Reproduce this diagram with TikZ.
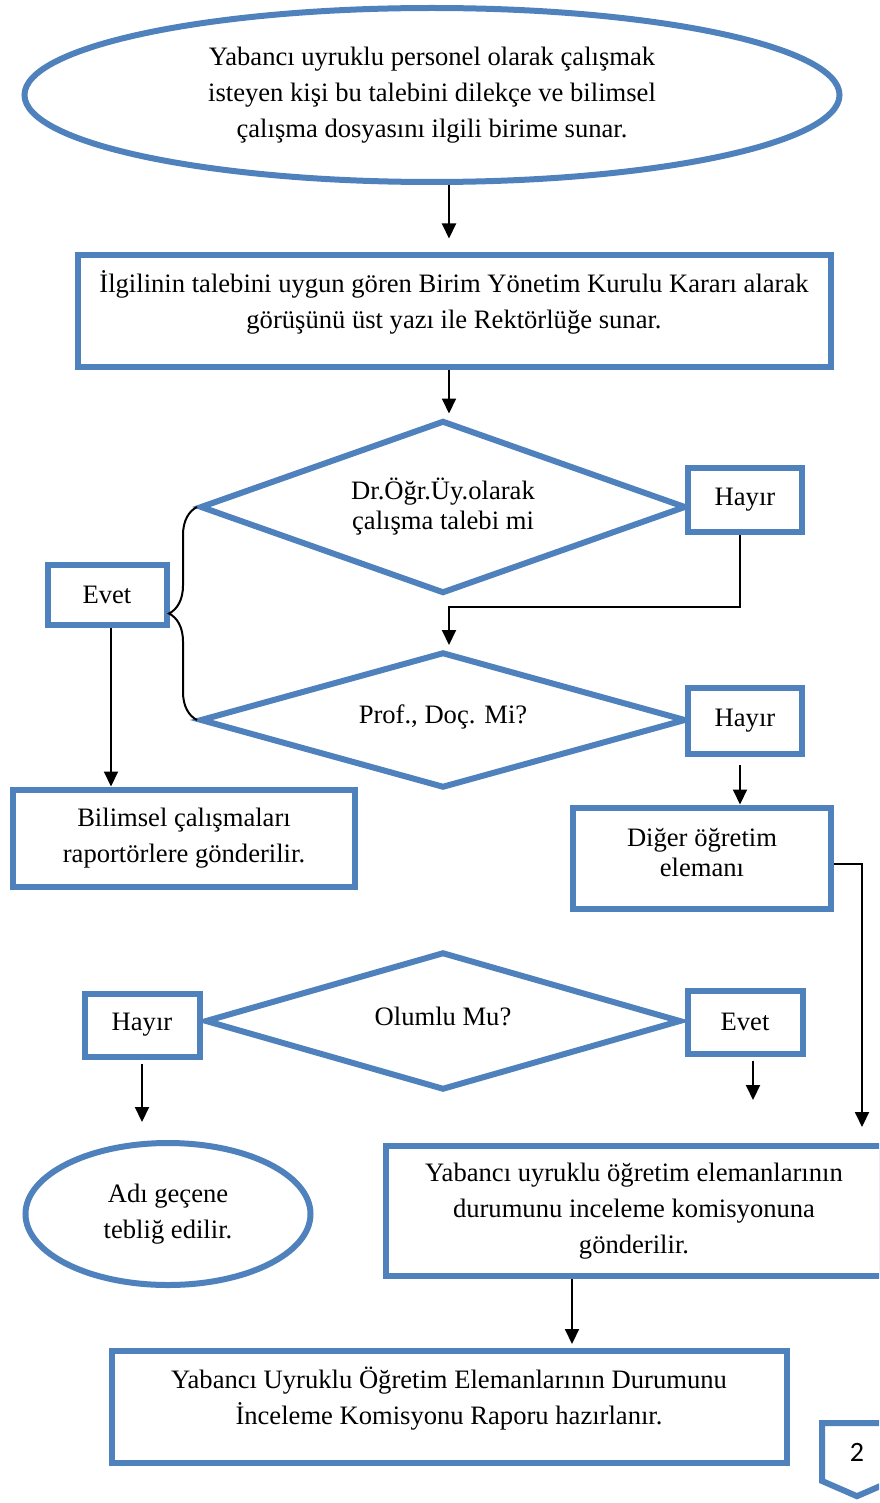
\documentclass[tikz,border=0pt]{standalone}
\usepackage{fontspec}
\setmainfont{Liberation Serif}
\newfontfamily\pagefont{Carlito}
\usetikzlibrary{arrows.meta,shapes.geometric,shapes.symbols,decorations.pathreplacing}
\definecolor{boxblue}{RGB}{79,129,189}
\tikzset{
	line width=1pt,% connectors are thin and black, shapes have the thick blue frame
	box/.style ={rectangle, draw=boxblue, line width=3pt, fill=white, inner sep=0pt, align=center},
	oval/.style = {ellipse, draw=boxblue, line width=3pt, fill=white, inner sep=0pt, align=center},
	choice/.style = {diamond, draw=boxblue, line width=3pt, fill=white, aspect=3, inner sep=0pt, align=center},
	arrow/.style = {-{Triangle[width=7pt,length=7.5pt]}, line width=1pt},
	bracket/.style = {decorate, decoration={brace, amplitude=14pt}, line width=1pt}
}

\begin{document}
\begin{tikzpicture}[x=0.5pt, y=-0.5pt, font=\fontsize{13.3}{18}\selectfont]
            \useasboundingbox (0,0) rectangle (879,1503);
            \clip (0,0) rectangle (879,1503);
            \coordinate (mid) at (449,0);
            \coordinate (side) at (740,607);
            \coordinate (join) at (449,607);
            \coordinate (far) at (862,864);
            \coordinate (evx) at (111,0);
            \coordinate (yes) at (753,1100);
            \coordinate (low) at (572,0);
            \node[oval, minimum width=407.5pt, minimum height=87pt] (1) at (432,95) {Yabancı uyruklu personel olarak çalışmak\\ isteyen kişi bu talebini dilekçe ve bilimsel\\ çalışma dosyasını ilgili birime sunar.};
            \node[box, minimum width=376.5pt, minimum height=56pt, text depth=11.5pt] (2) at (454,311) {İlgilinin talebini uygun gören Birim Yönetim Kurulu Kararı alarak\\ görüşünü üst yazı ile Rektörlüğe sunar.};
            \node[choice, minimum width=243pt, minimum height=86.5pt] (3) at (443,507) {Dr.Öğr.Üy.olarak\\[-3pt] çalışma talebi mi};
            \node[box, minimum width=57pt, minimum height=32pt] (4) at (745,500) {Hayır};
            \node[choice, minimum width=243pt, minimum height=68pt, text depth=6pt] (5) at (443,720) {Prof., Doç. Mi?};
            \node[box, minimum width=57pt, minimum height=33pt] (6) at (745,721) {Hayır};
            \node[box, minimum width=129pt, minimum height=50.5pt, text depth=6pt] (7) at (702,858) {Diğer öğretim\\[-3pt] elemanı};
            \node[box, minimum width=59.5pt, minimum height=30pt] (8) at (107,595) {Evet};
            \node[box, minimum width=171pt, minimum height=48.5pt] (9) at (184,838) {Bilimsel çalışmaları\\ raportörlere gönderilir.};
            \node[choice, minimum width=238pt, minimum height=69pt, text depth=5pt] (10) at (443,1021) {Olumlu Mu?};
            \node[box, minimum width=57.5pt, minimum height=31.5pt] (11) at (142,1025) {Hayır};
            \node[box, minimum width=57.5pt, minimum height=31.5pt] (12) at (745,1022) {Evet};
            \node[oval, minimum width=142.5pt, minimum height=71pt] (13) at (168,1214) {Adı geçene\\ tebliğ edilir.};
            \node[box, minimum width=248pt, minimum height=65pt] (14) at (634,1211) {Yabancı uyruklu öğretim elemanlarının\\ durumunu inceleme komisyonuna\\ gönderilir.};
            \node[box, minimum width=337.5pt, minimum height=56pt, text depth=11.5pt] (15) at (449,1407) {Yabancı Uyruklu Öğretim Elemanlarının Durumunu\\ İnceleme Komisyonu Raporu hazırlanır.};
            \node[signal, signal to=south, signal pointer angle=133, draw=boxblue, line width=3pt, fill=white, inner sep=0pt, minimum width=35pt, minimum height=30.5pt, font=\pagefont\fontsize{14}{16}\selectfont] (16) at (857,1452) {2};
            \draw[arrow, shorten >=6.75pt] (1.south -| mid) -- (2.north -| mid);
            \draw[arrow, shorten >=2pt] (2.south -| mid) -- (3.north -| mid);
            \draw[arrow, shorten >=2pt] (4.south -| side) -- (side) -- (join) -- (5.north -| join);
            \draw[bracket] (5.west) -- (3.west);
            \draw[arrow] (8.south -| evx) -- (9.north -| evx);
            \draw[arrow, shorten <=4pt] (6.south -| side) -- (7.north -| side);
            \draw[arrow, shorten >=8pt] (7.east |- far) -| (14.north -| far);
            \draw[arrow, shorten <=2pt, shorten >=9pt] (11.south) -- (11.south |- 13.north);
            \draw[arrow, shorten <=2pt] (12.south -| yes) -- (yes);
            \draw[arrow, shorten >=2pt] (14.south -| low) -- (15.north -| low);
        \end{tikzpicture}
\end{document}
